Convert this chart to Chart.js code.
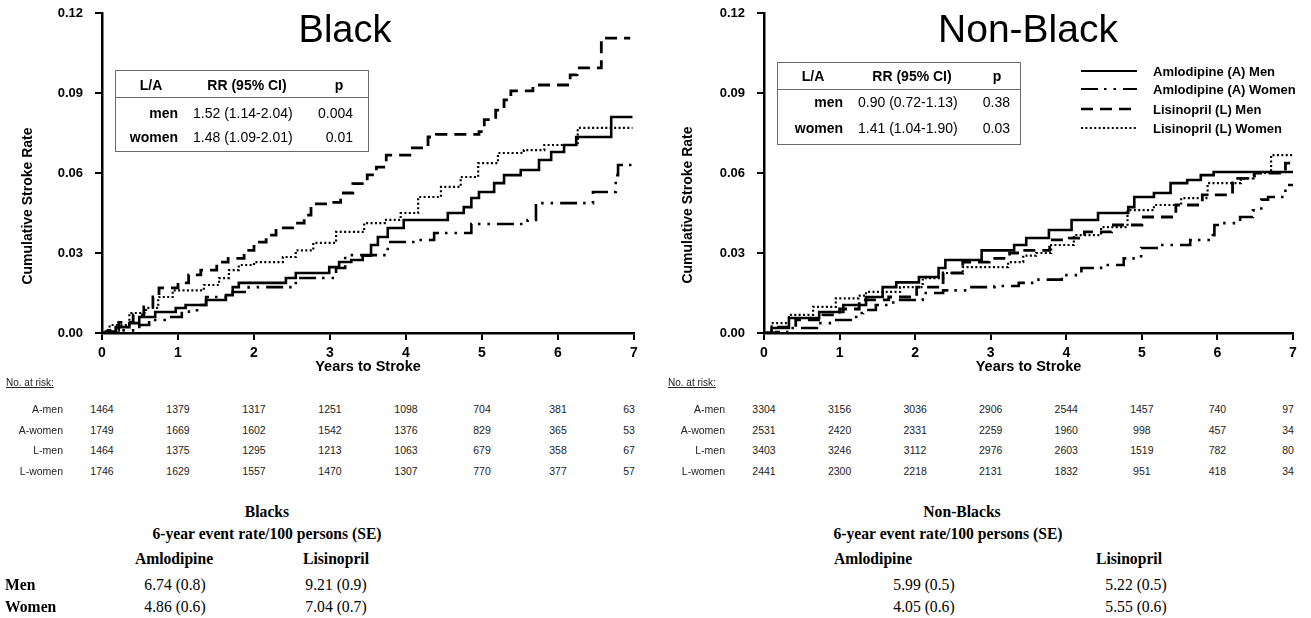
<!DOCTYPE html>
<html><head><meta charset="utf-8">
<script src="https://cdn.jsdelivr.net/npm/chart.js@4.4.1/dist/chart.umd.min.js"></script>
<style>
html,body{margin:0;padding:0;background:#fff;}
body{width:1311px;height:618px;position:relative;overflow:hidden;font-family:"Liberation Sans",Arial,Helvetica,sans-serif;color:#000;}
.a{position:absolute;white-space:nowrap;line-height:1;}
.c{transform:translate(-50%,-50%);}
.r{transform:translate(-100%,-50%);}
.l{transform:translate(0,-50%);}
.box{position:absolute;border:1.5px solid #6a6a6a;box-sizing:border-box;}
.sep{position:absolute;height:0;border-top:1.3px solid #6a6a6a;}
.tb{font-size:14px;}
.b{font-weight:bold;}
.risk{font-size:10.5px;color:#222;}
.serif{font-family:"Liberation Serif","Times New Roman",serif;font-size:17px;}
.sc{transform:translate(-50%,-50%) scaleX(0.92);}
.sl{transform:translate(0,-50%) scaleX(0.92);transform-origin:left center;}
.leg{font-size:13px;font-weight:bold;}
</style></head>
<body>
<canvas id="c1" width="655" height="380" style="position:absolute;left:0;top:0;width:655px;height:380px"></canvas>
<canvas id="c2" width="656" height="380" style="position:absolute;left:655px;top:0;width:656px;height:380px"></canvas>
<div id="overlay"></div>
<script>
// ---------- data ----------
const xYears = [0, 1, 2, 3, 4, 5, 6, 7];
const yRates = [0, 0.03, 0.06, 0.09, 0.12];
const seriesNames = ['Amlodipine (A) Men', 'Amlodipine (A) Women', 'Lisinopril (L) Men', 'Lisinopril (L) Women'];
const riskLabels = ['A-men', 'A-women', 'L-men', 'L-women'];

// Black: [years, cumulative rate]
const blackAMen = [[0,0],[0.05,0.0005],[0.18,0.0022],[0.36,0.0037],[0.49,0.006],[0.7,0.0079],[0.97,0.0094],[1.1,0.0105],[1.37,0.0124],[1.63,0.0142],[1.72,0.0172],[1.8,0.0188],[2.42,0.0206],[2.55,0.0225],[2.99,0.0247],[3.12,0.0266],[3.28,0.0274],[3.43,0.029],[3.54,0.033],[3.63,0.036],[3.76,0.0394],[3.97,0.0424],[4.55,0.045],[4.76,0.0472],[4.86,0.0506],[4.96,0.0529],[5.16,0.0562],[5.29,0.0592],[5.51,0.0611],[5.75,0.0649],[5.91,0.0679],[6.08,0.0705],[6.24,0.0735],[6.7,0.081],[6.98,0.081]];
const blackAWomen = [[0,0],[0.2,0.001],[0.49,0.003],[0.62,0.0049],[0.87,0.006],[1.05,0.008],[1.25,0.0105],[1.37,0.0135],[1.72,0.0154],[1.93,0.0172],[2.55,0.0206],[3.08,0.0244],[3.2,0.0292],[3.76,0.0341],[4.16,0.0349],[4.37,0.0375],[4.86,0.0409],[5.6,0.0424],[5.71,0.0487],[6.46,0.0529],[6.76,0.0592],[6.79,0.063],[6.98,0.063]];
const blackLMen = [[0,0],[0.08,0.001],[0.22,0.004],[0.41,0.0068],[0.55,0.0098],[0.67,0.0135],[0.75,0.0169],[1.0,0.0188],[1.14,0.0218],[1.3,0.0236],[1.51,0.0266],[1.66,0.028],[1.87,0.031],[2.0,0.0341],[2.16,0.0367],[2.29,0.0394],[2.53,0.0412],[2.66,0.0442],[2.75,0.0484],[3.01,0.049],[3.14,0.0525],[3.3,0.056],[3.49,0.0593],[3.61,0.0622],[3.74,0.0667],[4.05,0.0694],[4.29,0.0735],[4.4,0.0745],[4.96,0.0755],[5.03,0.08],[5.18,0.0836],[5.29,0.0874],[5.38,0.0908],[5.67,0.093],[6.16,0.0968],[6.25,0.0994],[6.57,0.1106],[6.95,0.1106]];
const blackLWomen = [[0,0],[0.1,0.003],[0.36,0.0075],[0.58,0.0094],[0.74,0.0135],[0.93,0.016],[1.34,0.018],[1.54,0.0206],[1.67,0.0236],[1.8,0.0255],[2.0,0.0266],[2.38,0.0285],[2.55,0.031],[2.78,0.0338],[3.08,0.0379],[3.45,0.0412],[3.72,0.0424],[3.93,0.045],[4.16,0.051],[4.46,0.0548],[4.72,0.0585],[4.95,0.0637],[5.21,0.0675],[5.55,0.0686],[5.82,0.0705],[6.26,0.0769],[6.98,0.0769]];

// Non-Black
const nonAMen = [[0,0],[0.1,0.0019],[0.33,0.0056],[0.73,0.0079],[1.05,0.0105],[1.35,0.0135],[1.57,0.0172],[1.75,0.019],[2.05,0.021],[2.31,0.0244],[2.4,0.0274],[2.88,0.031],[3.31,0.033],[3.47,0.0356],[3.77,0.0386],[4.07,0.0424],[4.42,0.045],[4.82,0.0472],[4.9,0.051],[5.16,0.0525],[5.38,0.0562],[5.6,0.0574],[5.78,0.0592],[5.95,0.0604],[7.0,0.0604]];
const nonAWomen = [[0,0],[0.16,0.0004],[0.33,0.0019],[0.7,0.0037],[0.92,0.0049],[1.22,0.0075],[1.31,0.0086],[1.48,0.0105],[1.71,0.0124],[2.1,0.015],[2.37,0.016],[2.71,0.0172],[3.05,0.0176],[3.37,0.0188],[3.58,0.02],[3.94,0.0217],[4.2,0.0244],[4.46,0.0255],[4.76,0.028],[4.99,0.0319],[5.24,0.033],[5.64,0.0349],[5.94,0.0367],[5.96,0.0405],[6.05,0.0412],[6.3,0.0435],[6.47,0.046],[6.58,0.05],[6.67,0.051],[6.9,0.0555],[7.0,0.0555]];
const nonLMen = [[0,0],[0.16,0.0022],[0.42,0.0049],[0.78,0.0068],[1.0,0.009],[1.26,0.0124],[1.65,0.0135],[2.02,0.0172],[2.37,0.0225],[2.63,0.0266],[2.98,0.028],[3.25,0.03],[3.4,0.031],[3.78,0.0349],[4.04,0.0356],[4.24,0.0379],[4.6,0.0405],[5.0,0.0435],[5.45,0.048],[5.8,0.0518],[6.2,0.058],[6.49,0.06],[6.9,0.0637],[7.0,0.0637]];
const nonLWomen = [[0,0],[0.1,0.0037],[0.33,0.0068],[0.65,0.0098],[0.95,0.013],[1.25,0.014],[1.35,0.0154],[1.8,0.0172],[2.1,0.0206],[2.37,0.0225],[2.63,0.0247],[3.23,0.0266],[3.43,0.029],[3.6,0.03],[3.8,0.033],[4.1,0.0367],[4.46,0.0397],[4.81,0.0461],[5.16,0.048],[5.52,0.0506],[5.87,0.0562],[6.31,0.058],[6.48,0.06],[6.71,0.0667],[7.0,0.0667]];

// numbers at risk
const blackRiskAMen = [1464, 1379, 1317, 1251, 1098, 704, 381, 63];
const blackRiskAWomen = [1749, 1669, 1602, 1542, 1376, 829, 365, 53];
const blackRiskLMen = [1464, 1375, 1295, 1213, 1063, 679, 358, 67];
const blackRiskLWomen = [1746, 1629, 1557, 1470, 1307, 770, 377, 57];
const nonRiskAMen = [3304, 3156, 3036, 2906, 2544, 1457, 740, 97];
const nonRiskAWomen = [2531, 2420, 2331, 2259, 1960, 998, 457, 34];
const nonRiskLMen = [3403, 3246, 3112, 2976, 2603, 1519, 782, 80];
const nonRiskLWomen = [2441, 2300, 2218, 2131, 1832, 951, 418, 34];

// RR tables
const rrHeader = ['L/A', 'RR (95% CI)', 'p'];
const rrRowLabels = ['men', 'women'];
const blackRR = ['1.52 (1.14-2.04)', '1.48 (1.09-2.01)'];
const blackP = ['0.004', '0.01'];
const nonRR = ['0.90 (0.72-1.13)', '1.41 (1.04-1.90)'];
const nonP = ['0.38', '0.03'];

// 6-year event rates
const rateRowLabels = ['Men', 'Women'];
const rateColLabels = ['Amlodipine', 'Lisinopril'];
const blackAmlo = ['6.74 (0.8)', '4.86 (0.6)'];
const blackLisi = ['9.21 (0.9)', '7.04 (0.7)'];
const nonAmlo = ['5.99 (0.5)', '4.05 (0.6)'];
const nonLisi = ['5.22 (0.5)', '5.55 (0.6)'];

// ---------- styles ----------
const FONT = '"Liberation Sans", Arial, Helvetica, sans-serif';
const lineStyles = [
  {w: 2.6, dash: []},
  {w: 2.6, dash: [17, 6, 2.5, 7, 2.5, 7]},
  {w: 2.8, dash: [12, 7]},
  {w: 2.2, dash: [2, 2.4]}
];

function makeChart(id, series, yWidth, padRight) {
  return new Chart(document.getElementById(id), {
    type: 'line',
    data: {
      datasets: series.map((s, i) => ({
        label: seriesNames[i],
        data: s.map(p => ({x: p[0], y: p[1]})),
        stepped: true,
        borderColor: '#000',
        borderWidth: lineStyles[i].w,
        borderDash: lineStyles[i].dash,
        borderCapStyle: 'butt',
        pointRadius: 0,
        fill: false,
        tension: 0
      }))
    },
    options: {
      responsive: false,
      animation: false,
      events: [],
      layout: {padding: {left: 0, right: padRight, top: 13, bottom: 0}},
      plugins: {legend: {display: false}, tooltip: {enabled: false}},
      scales: {
        x: {
          type: 'linear', min: 0, max: 7,
          afterBuildTicks: s => { s.ticks = xYears.map(v => ({value: v})); },
          afterFit: s => { s.height = 47; },
          ticks: {font: {family: FONT, size: 14, weight: 'bold'}, color: '#000', padding: 5, maxRotation: 0, autoSkip: false, callback: v => String(v)},
          grid: {drawOnChartArea: false, drawTicks: true, tickLength: 7, color: '#000', lineWidth: 2},
          border: {display: true, color: '#000', width: 2.5},
          title: {display: true, text: 'Years to Stroke', color: '#000', font: {family: FONT, size: 14.5, weight: 'bold'}, padding: {top: 0, bottom: 4}}
        },
        y: {
          type: 'linear', min: 0, max: 0.12,
          afterBuildTicks: s => { s.ticks = yRates.map(v => ({value: v})); },
          afterFit: s => { s.width = yWidth; s.paddingTop = 7; s.paddingBottom = 7; },
          ticks: {font: {family: FONT, size: 13, weight: 'bold'}, color: '#000', padding: 12, callback: v => Number(v).toFixed(2)},
          grid: {drawOnChartArea: false, drawTicks: true, tickLength: 7, color: '#000', lineWidth: 2},
          border: {display: true, color: '#000', width: 2.5}
        }
      }
    }
  });
}

const chartBlack = makeChart('c1', [blackAMen, blackAWomen, blackLMen, blackLWomen], 102, 21);
const chartNon = makeChart('c2', [nonAMen, nonAWomen, nonLMen, nonLWomen], 109, 18);

// ---------- overlay text ----------
const ov = document.getElementById('overlay');
function txt(s, x, y, cls, extra) {
  const d = document.createElement('div');
  d.className = 'a ' + cls;
  d.style.left = x + 'px';
  d.style.top = y + 'px';
  if (extra) Object.assign(d.style, extra);
  d.textContent = s;
  ov.appendChild(d);
  return d;
}
function el(cls, st) {
  const d = document.createElement('div');
  d.className = cls;
  Object.assign(d.style, st);
  ov.appendChild(d);
  return d;
}

// titles
txt('Black', 345, 29, 'c', {fontSize: '38px'});
txt('Non-Black', 1028, 28, 'c', {fontSize: '39px'});

// y axis titles
txt('Cumulative Stroke Rate', 27, 206, 'b', {fontSize: '14px', transform: 'translate(-50%,-50%) rotate(-90deg)'});
txt('Cumulative Stroke Rate', 687, 205, 'b', {fontSize: '14px', transform: 'translate(-50%,-50%) rotate(-90deg)'});

// RR inset tables
function rrTable(g, rr, p) {
  el('box', {left: g.x0 + 'px', top: g.y0 + 'px', width: (g.x1 - g.x0) + 'px', height: (g.y1 - g.y0) + 'px'});
  el('sep', {left: g.x0 + 'px', top: g.sep + 'px', width: (g.x1 - g.x0) + 'px'});
  txt(rrHeader[0], g.cLA, g.yh, 'c tb b');
  txt(rrHeader[1], g.cRR, g.yh, 'c tb b');
  txt(rrHeader[2], g.cP, g.yh, 'c tb b');
  for (let i = 0; i < 2; i++) {
    txt(rrRowLabels[i], g.lblR, g.rows[i], 'r tb b');
    txt(rr[i], g.valL, g.rows[i], 'l tb');
    txt(p[i], g.pR, g.rows[i], 'r tb');
  }
}
rrTable({x0: 115, y0: 70, x1: 369, y1: 152, sep: 97, yh: 85, rows: [113, 137], cLA: 151, cRR: 247, cP: 339, lblR: 178, valL: 193, pR: 353}, blackRR, blackP);
rrTable({x0: 777, y0: 62, x1: 1021, y1: 145, sep: 89, yh: 76, rows: [102, 128], cLA: 813, cRR: 912, cP: 997, lblR: 843, valL: 858, pR: 1010}, nonRR, nonP);

// legend (right panel)
const legendY = [71, 89, 109, 128];
seriesNames.forEach((name, i) => {
  const ns = 'http://www.w3.org/2000/svg';
  const svg = document.createElementNS(ns, 'svg');
  svg.setAttribute('width', '56'); svg.setAttribute('height', '8');
  svg.style.position = 'absolute';
  svg.style.left = '1081px';
  svg.style.top = (legendY[i] - 4) + 'px';
  const ln = document.createElementNS(ns, 'line');
  ln.setAttribute('x1', '0'); ln.setAttribute('x2', '56');
  ln.setAttribute('y1', '4'); ln.setAttribute('y2', '4');
  ln.setAttribute('stroke', '#000');
  ln.setAttribute('stroke-width', String(lineStyles[i].w * 0.85));
  if (lineStyles[i].dash.length) ln.setAttribute('stroke-dasharray', lineStyles[i].dash.join(' '));
  svg.appendChild(ln);
  ov.appendChild(svg);
  txt(name, 1153, legendY[i], 'l leg');
});

// risk tables aligned to x scale
function riskTable(chart, offsetX, labelRight, rows) {
  txt('No. at risk:', labelRight - 57, 383, 'l risk', {textDecoration: 'underline', fontSize: '10px'});
  const rowY = [409, 430, 450, 471];
  rows.forEach((vals, r) => {
    txt(riskLabels[r], labelRight, rowY[r], 'r risk');
    vals.forEach((v, i) => {
      const px = chart.scales.x.getPixelForValue(xYears[i]) + offsetX;
      txt(String(v), i === vals.length - 1 ? px - 5 : px, rowY[r], 'c risk');
    });
  });
}
riskTable(chartBlack, 0, 63, [blackRiskAMen, blackRiskAWomen, blackRiskLMen, blackRiskLWomen]);
riskTable(chartNon, 655, 725, [nonRiskAMen, nonRiskAWomen, nonRiskLMen, nonRiskLWomen]);

// 6-year event rate blocks
function rateBlock(g, title, amlo, lisi) {
  txt(title, g.cTitle, 511, 'serif b sc');
  txt('6-year event rate/100 persons (SE)', g.cSub, 533, 'serif b sc');
  txt(rateColLabels[0], g.cA, 558, 'serif b sc');
  txt(rateColLabels[1], g.cL, 558, 'serif b sc');
  const ry = [584, 606];
  for (let i = 0; i < 2; i++) {
    if (g.showRows) txt(rateRowLabels[i], 5, ry[i], 'serif b sl');
    txt(amlo[i], g.vA, ry[i], 'serif sc');
    txt(lisi[i], g.vL, ry[i], 'serif sc');
  }
}
rateBlock({cTitle: 267, cSub: 267, cA: 174, cL: 336, vA: 175, vL: 336, showRows: true}, 'Blacks', blackAmlo, blackLisi);
rateBlock({cTitle: 962, cSub: 948, cA: 873, cL: 1129, vA: 924, vL: 1136, showRows: false}, 'Non-Blacks', nonAmlo, nonLisi);
</script>
</body></html>
